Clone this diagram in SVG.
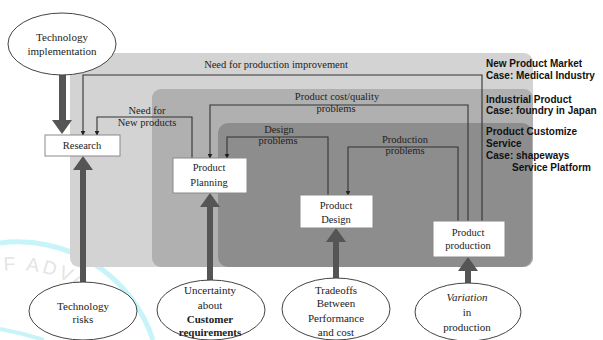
<svg xmlns="http://www.w3.org/2000/svg" width="603" height="340" viewBox="0 0 603 340">
<defs>
<style>
.serif{font-family:"Liberation Serif","Times New Roman",serif;fill:#222;text-anchor:middle}
.lbl{font-size:10.5px}
.el{font-size:11px}
.box{fill:#fff;stroke:#8a8a8a;stroke-width:1}
.ell{fill:#fff;stroke:#444;stroke-width:1}
.side{font-family:"Liberation Sans",Arial,sans-serif;font-size:10px;font-weight:bold;fill:#111}
.conn{fill:none;stroke:#333;stroke-width:1.1}
.thick{fill:#555}
</style>
<marker id="ah" viewBox="0 0 8 8" refX="7" refY="4" markerWidth="5" markerHeight="5" orient="auto" markerUnits="userSpaceOnUse">
<path d="M0,0 L8,4 L0,8 z" fill="#222"/>
</marker>
<path id="wmp" d="M4,271 A114,114 0 0 1 132,384"/>
</defs>
<rect width="603" height="340" fill="#fff"/>

<g id="watermark">
<path d="M0,243 A142,142 0 0 1 153,340" fill="none" stroke="#c6f4f8" stroke-width="5"/>
<path d="M0,329 Q22,333 44,340" fill="none" stroke="#c6f4f8" stroke-width="4"/>
<text font-family="Liberation Sans,Arial,sans-serif" font-size="19" fill="#e4e4e4" letter-spacing="3"><textPath href="#wmp">F ADVANC</textPath></text>
</g>

<g id="regions">
<rect id="region-new-market" x="70" y="53" width="463" height="214" rx="9" fill="#d3d3d3"/>
<rect id="region-industrial" x="152" y="89" width="381" height="178" rx="9" fill="#b0b0b0"/>
<rect id="region-customize" x="218" y="123" width="314" height="144" rx="10" fill="#8d8d8d"/>
</g>

<g id="side-labels">
<text class="side" x="486" y="67">New Product Market</text>
<text class="side" x="486" y="79">Case: Medical Industry</text>
<text class="side" x="486" y="103">Industrial Product</text>
<text class="side" x="486" y="114">Case: foundry in Japan</text>
<text class="side" x="486" y="135">Product Customize</text>
<text class="side" x="486" y="147">Service</text>
<text class="side" x="486" y="159">Case: shapeways</text>
<text class="side" x="512" y="171">Service Platform</text>
</g>

<g id="connectors">
<path class="conn" d="M482,221 V75 H83 V135" marker-end="url(#ah)"/>
<path class="conn" d="M192,158 V117 H97 V135" marker-end="url(#ah)"/>
<path class="conn" d="M468,221 V105 H210 V158" marker-end="url(#ah)"/>
<path class="conn" d="M328,195 V137 H227 V158" marker-end="url(#ah)"/>
<path class="conn" d="M458,221 V147 H348 V195" marker-end="url(#ah)"/>
<text class="serif lbl" x="276" y="68">Need for production improvement</text>
<text class="serif lbl" x="147" y="114">Need for</text>
<text class="serif lbl" x="147" y="126">New products</text>
<text class="serif lbl" x="337" y="100">Product cost/quality</text>
<text class="serif lbl" x="336" y="112">problems</text>
<text class="serif lbl" x="279" y="133">Design</text>
<text class="serif lbl" x="278" y="144">problems</text>
<text class="serif lbl" x="405" y="143">Production</text>
<text class="serif lbl" x="405" y="154">problems</text>
<path class="thick" d="M59,70 H66 V120 H72 L62,134 L52,120 H59 Z"/>
<path class="thick" d="M80,285 V170 H73 L83,156 L93,170 H86 V285 Z"/>
<path class="thick" d="M207,284 V207 H200 L210,193 L220,207 H213 V284 Z"/>
<path class="thick" d="M333,282 V242 H326 L336,228 L346,242 H339 V282 Z"/>
<path class="thick" d="M465,286 V271 H458 L468,257 L478,271 H471 V286 Z"/>
</g>

<g id="research">
<rect class="box" x="45" y="135" width="75" height="21"/>
<text class="serif lbl" x="82" y="149">Research</text>
</g>
<g id="product-planning">
<rect class="box" x="173" y="158" width="74" height="35"/>
<text class="serif lbl" x="209" y="171">Product</text>
<text class="serif lbl" x="209" y="186">Planning</text>
</g>
<g id="product-design">
<rect class="box" x="300" y="195" width="73" height="33"/>
<text class="serif lbl" x="336" y="209">Product</text>
<text class="serif lbl" x="336" y="223">Design</text>
</g>
<g id="product-production">
<rect class="box" x="433" y="221" width="72" height="36"/>
<text class="serif lbl" x="468" y="236">Product</text>
<text class="serif lbl" x="468" y="249">production</text>
</g>

<g id="technology-implementation">
<ellipse class="ell" cx="62" cy="44" rx="54" ry="31"/>
<text class="serif el" x="62" y="41">Technology</text>
<text class="serif el" x="62" y="55">implementation</text>
</g>
<g id="technology-risks">
<ellipse class="ell" cx="83" cy="311" rx="54" ry="29"/>
<text class="serif el" x="83" y="310">Technology</text>
<text class="serif el" x="83" y="323">risks</text>
</g>
<g id="uncertainty">
<ellipse class="ell" cx="211" cy="310" rx="54" ry="30"/>
<text class="serif el" x="210" y="294">Uncertainty</text>
<text class="serif el" x="210" y="309">about</text>
<text class="serif el" x="210" y="323" font-weight="bold">Customer</text>
<text class="serif el" x="210" y="336" font-weight="bold">requirements</text>
</g>
<g id="tradeoffs">
<ellipse class="ell" cx="336" cy="309" rx="54" ry="31"/>
<text class="serif el" x="336" y="294">Tradeoffs</text>
<text class="serif el" x="336" y="307">Between</text>
<text class="serif el" x="336" y="322">Performance</text>
<text class="serif el" x="336" y="336">and cost</text>
</g>
<g id="variation">
<ellipse class="ell" cx="468" cy="312" rx="53" ry="29"/>
<text class="serif el" x="467" y="301" font-style="italic">Variation</text>
<text class="serif el" x="467" y="316">in</text>
<text class="serif el" x="467" y="331">production</text>
</g>
</svg>
